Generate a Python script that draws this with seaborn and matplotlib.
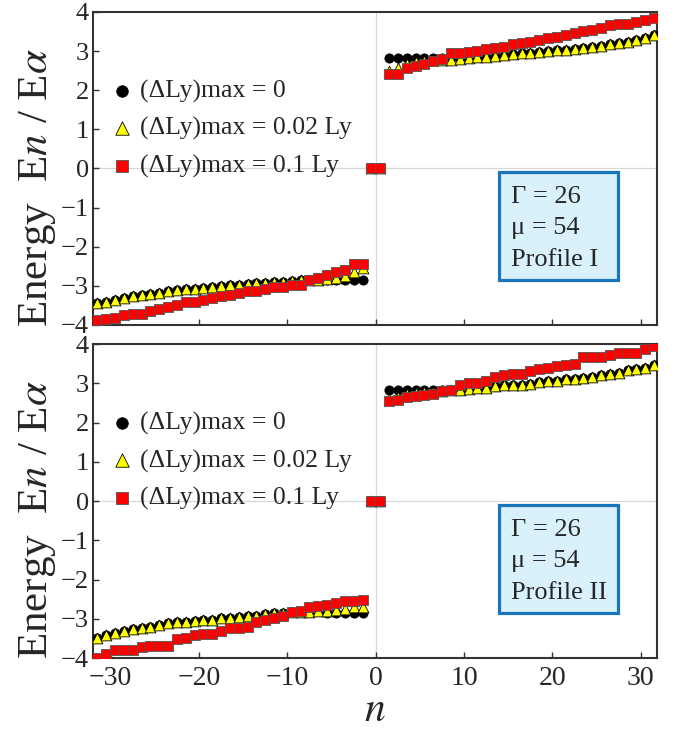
import numpy as np
import pandas as pd
import matplotlib
matplotlib.use("Agg")
import matplotlib.pyplot as plt
import seaborn as sns
from matplotlib.patches import Rectangle

# level index: 31 negative levels, two zero modes, 31 positive levels
n_neg = np.arange(-31.5, -1.0, 1.0)
n_zero = [-0.5, 0.5]
n_pos = np.arange(1.5, 32.0, 1.0)

# ---- Profile I ----
p1_tri_neg = [-3.44, -3.40, -3.36, -3.31, -3.27, -3.24, -3.20, -3.17, -3.14, -3.11, -3.08,
              -3.07, -3.05, -3.03, -3.00, -2.97, -2.97, -2.95, -2.93, -2.92, -2.90, -2.89,
              -2.88, -2.86, -2.86, -2.85, -2.83, -2.81, -2.76, -2.65, -2.55]
p1_circ_neg = p1_tri_neg[:26] + [-2.85, -2.86, -2.86, -2.86, -2.86]
p1_sq_neg = [-3.88, -3.85, -3.81, -3.74, -3.71, -3.71, -3.63, -3.58, -3.55, -3.48, -3.42,
             -3.42, -3.36, -3.31, -3.25, -3.23, -3.19, -3.14, -3.13, -3.08, -3.04, -3.02,
             -2.99, -2.97, -2.86, -2.81, -2.72, -2.65, -2.60, -2.45, -2.44]
p1_tri_pos = [2.48, 2.58, 2.66, 2.71, 2.75, 2.78, 2.78, 2.78, 2.80, 2.82, 2.84, 2.86, 2.88,
              2.90, 2.92, 2.94, 2.96, 2.98, 3.01, 3.02, 3.04, 3.06, 3.08, 3.11, 3.13, 3.17,
              3.20, 3.24, 3.29, 3.34, 3.41]
p1_circ_pos = [2.83] * 9 + p1_tri_pos[9:]
p1_sq_pos = [2.42, 2.42, 2.56, 2.62, 2.68, 2.75, 2.79, 2.94, 2.96, 2.97, 3.01, 3.05, 3.09,
             3.11, 3.18, 3.20, 3.24, 3.28, 3.33, 3.37, 3.40, 3.45, 3.52, 3.53, 3.60, 3.67,
             3.68, 3.70, 3.75, 3.79, 3.84]

# ---- Profile II ----
p2_tri_neg = [-3.48, -3.42, -3.36, -3.32, -3.26, -3.23, -3.20, -3.16, -3.11, -3.08, -3.07,
              -3.05, -3.03, -3.02, -2.99, -2.97, -2.95, -2.93, -2.92, -2.89, -2.86, -2.84,
              -2.83, -2.83, -2.83, -2.81, -2.80, -2.78, -2.76, -2.69, -2.69]
p2_circ_neg = p2_tri_neg[:26] + [-2.84, -2.84, -2.84, -2.84, -2.84]
p2_sq_neg = [-4.00, -3.91, -3.80, -3.80, -3.80, -3.73, -3.69, -3.69, -3.69, -3.51, -3.48,
             -3.42, -3.38, -3.38, -3.32, -3.23, -3.23, -3.20, -3.07, -3.02, -2.98, -2.93,
             -2.83, -2.80, -2.69, -2.67, -2.65, -2.60, -2.55, -2.55, -2.52]
p2_tri_pos = [2.60, 2.64, 2.72, 2.75, 2.77, 2.78, 2.81, 2.83, 2.83, 2.85, 2.88, 2.89, 2.94,
              2.95, 2.95, 2.97, 2.99, 3.04, 3.05, 3.06, 3.10, 3.12, 3.13, 3.17, 3.21, 3.24,
              3.27, 3.33, 3.36, 3.40, 3.46]
p2_circ_pos = [2.83] * 8 + p2_tri_pos[8:]
p2_sq_pos = [2.55, 2.57, 2.64, 2.68, 2.71, 2.72, 2.81, 2.83, 2.95, 3.00, 3.02, 3.06, 3.16,
             3.21, 3.23, 3.23, 3.32, 3.36, 3.38, 3.43, 3.47, 3.49, 3.66, 3.66, 3.67, 3.72,
             3.77, 3.78, 3.78, 3.87, 3.95]

zero_modes = [0.0, 0.0]

labels = ["(ΔLy)max = 0", "(ΔLy)max = 0.02 Ly", "(ΔLy)max = 0.1 Ly"]
panel_texts = [["Γ = 26", "μ = 54", "Profile I"], ["Γ = 26", "μ = 54", "Profile II"]]

sns.set_style("white")
plt.rcParams["font.family"] = ["Liberation Serif", "DejaVu Serif"]
plt.rcParams["mathtext.fontset"] = "stix"
plt.rcParams["axes.unicode_minus"] = True


def series_frame(neg, pos):
    n = list(n_neg) + n_zero + list(n_pos)
    e = list(neg) + zero_modes + list(pos)
    return pd.DataFrame({"n": n, "E": e})


panels = [
    [(p1_circ_neg, p1_circ_pos), (p1_tri_neg, p1_tri_pos), (p1_sq_neg, p1_sq_pos)],
    [(p2_circ_neg, p2_circ_pos), (p2_tri_neg, p2_tri_pos), (p2_sq_neg, p2_sq_pos)],
]
styles = [
    dict(marker="o", color="black", edgecolor="black", s=44),
    dict(marker="^", color="#ffff00", edgecolor="black", s=60),
    dict(marker="s", color="#ff0000", edgecolor="#555555", s=48),
]

fig = plt.figure(figsize=(6.8, 7.3), dpi=100)
ax_top = fig.add_axes([0.1368, 0.5548, 0.829, 0.4288])
ax_bot = fig.add_axes([0.1368, 0.0986, 0.829, 0.430])

for ax, series, texts in zip([ax_top, ax_bot], panels, panel_texts):
    ax.axhline(0, color="#d8d8d8", lw=0.9, zorder=0)
    ax.axvline(0, color="#d8d8d8", lw=0.9, zorder=0)
    for (neg, pos), st, lab in zip(series, styles, labels):
        df = series_frame(neg, pos)
        sns.scatterplot(data=df, x="n", y="E", ax=ax, label=lab, linewidth=0.6,
                        zorder=3, **st)
    ax.set_xlim(-32.0, 31.8)
    ax.set_ylim(-4, 4)
    ax.set_yticks(range(-4, 5))
    ax.set_xticks([-30, -20, -10, 0, 10, 20, 30])
    ax.tick_params(direction="in", length=4, width=1, labelsize=19, pad=3,
                   left=True, bottom=True, color="#333333")
    ax.tick_params(axis="x", labelsize=20, pad=6)
    for sp in ax.spines.values():
        sp.set_color("#333333")
        sp.set_linewidth(1.5)
    ax.set_xlabel("")
    ax.set_ylabel(r"Energy  E$\mathit{n}$ / E$\alpha$", fontsize=31)
    ax.yaxis.set_label_coords(-0.062, 0.44)
    ax.legend(loc="upper left", bbox_to_anchor=(0.034, 0.785), frameon=False,
              fontsize=18.5, handletextpad=0.3, labelspacing=0.55, borderpad=0,
              borderaxespad=0, handlelength=0.8, markerscale=1.25)
    ax.add_patch(Rectangle((0.72, 0.144), 0.211, 0.345, transform=ax.transAxes,
                           facecolor="#d8f1fb", edgecolor="#1b75bc", lw=2.3, zorder=5))
    for txt, yy in zip(texts, [0.409, 0.310, 0.208]):
        ax.text(0.741, yy, txt, transform=ax.transAxes, fontsize=19, va="center",
                ha="left", zorder=6)

ax_top.set_xticklabels([])
ax_bot.set_xlabel(r"$\mathit{n}$", fontsize=30, labelpad=0)

fig.savefig("out.png", dpi=100)
